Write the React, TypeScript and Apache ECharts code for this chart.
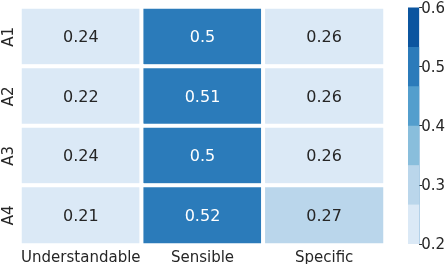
import React, { useEffect, useRef } from "react";
import * as echarts from "echarts";

const rows = ["A1", "A2", "A3", "A4"];
const cols = ["Understandable", "Sensible", "Specific"];
const valuesA1 = [0.24, 0.5, 0.26];
const valuesA2 = [0.22, 0.51, 0.26];
const valuesA3 = [0.24, 0.5, 0.26];
const valuesA4 = [0.21, 0.52, 0.27];
const matrix = [valuesA1, valuesA2, valuesA3, valuesA4];
const colorMin = 0.2;
const colorMax = 0.6;
const bandColors = ["#dbe9f6", "#bad6eb", "#89bedc", "#539ecd", "#2b7bba", "#0b559f"];
const colorTicks = [0.2, 0.3, 0.4, 0.5, 0.6];

const FONT = "DejaVu Sans";
const TEXT = "#262626";

export default function App() {
  const ref = useRef<HTMLDivElement>(null);
  useEffect(() => {
    if (!ref.current) return;
    const chart = echarts.init(ref.current, undefined, { renderer: "svg" });
    const step = (colorMax - colorMin) / bandColors.length;
    const pieces = bandColors.map((c, i) => ({
      gte: colorMin + step * i,
      lt: i === bandColors.length - 1 ? 10 : colorMin + step * (i + 1),
      color: c,
    }));
    const data: any[] = [];
    matrix.forEach((r, yi) =>
      r.forEach((v, xi) => {
        data.push({
          value: [xi, yi, v],
          label: { color: v > 0.4 ? "#ffffff" : TEXT },
        });
      })
    );
    const order = bandColors.map((_, i) => bandColors.length - 1 - i);
    const barSeries = order.map((i) => ({
      type: "bar",
      xAxisIndex: 1,
      yAxisIndex: 1,
      barWidth: "100%",
      barGap: "-100%",
      silent: true,
      itemStyle: { color: bandColors[i] },
      data: [colorMin + step * (i + 1)],
    }));
    chart.setOption({
      animation: false,
      textStyle: { fontFamily: FONT },
      grid: [
        { left: 19, top: 7, width: 366, height: 238 },
        { left: 408, top: 7, width: 12, height: 237 },
      ],
      xAxis: [
        {
          type: "category",
          data: cols,
          gridIndex: 0,
          axisLine: { show: false },
          axisTick: { show: false },
          axisLabel: { color: TEXT, fontSize: 15, fontFamily: FONT, margin: 4, interval: 0 },
          splitLine: { show: false },
        },
        {
          type: "category",
          data: ["c"],
          gridIndex: 1,
          show: false,
        },
      ],
      yAxis: [
        {
          type: "category",
          data: rows,
          inverse: true,
          gridIndex: 0,
          axisLine: { show: false },
          axisTick: { show: false },
          axisLabel: { color: TEXT, fontSize: 15, fontFamily: FONT, rotate: 90, margin: 5, interval: 0 },
          splitLine: { show: false },
        },
        {
          type: "value",
          gridIndex: 1,
          position: "right",
          min: colorMin,
          max: colorMax,
          interval: 0.1,
          axisLine: { show: false },
          axisTick: { show: true, length: 3, lineStyle: { color: TEXT, width: 1 } },
          axisLabel: {
            color: TEXT,
            fontSize: 15,
            fontFamily: FONT,
            margin: 2,
            formatter: (v: number) => (colorTicks.some((t) => Math.abs(t - v) < 1e-6) ? v.toFixed(1) : ""),
          },
          splitLine: { show: false },
        },
      ],
      visualMap: {
        type: "piecewise",
        show: false,
        dimension: 2,
        seriesIndex: 0,
        pieces,
      },
      series: [
        {
          type: "heatmap",
          xAxisIndex: 0,
          yAxisIndex: 0,
          data,
          itemStyle: { borderColor: "#ffffff", borderWidth: 4 },
          label: {
            show: true,
            fontSize: 16,
            fontFamily: FONT,
            formatter: (p: any) => String(p.value[2]),
          },
          emphasis: { disabled: true },
        },
        ...barSeries,
      ],
    });
    return () => chart.dispose();
  }, []);
  return (
    <div
      ref={ref}
      style={{ position: "fixed", left: 0, top: 0, width: 448, height: 264 }}
    />
  );
}
